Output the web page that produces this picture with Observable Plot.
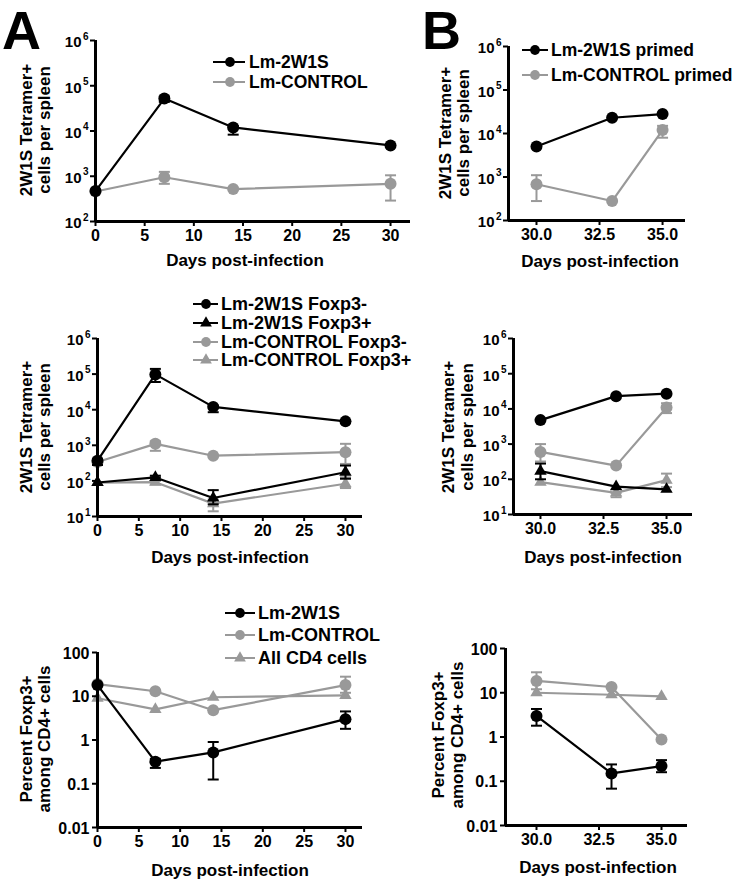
<!DOCTYPE html>
<html><head><meta charset="utf-8">
<script src="https://cdn.jsdelivr.net/npm/d3@7"></script>
<script src="https://cdn.jsdelivr.net/npm/@observablehq/plot@0.6"></script>
<style>
body{margin:0;background:#fff;}
#fig{position:relative;width:748px;height:887px;overflow:hidden;background:#fff;font-family:"Liberation Sans",Arial,sans-serif;font-weight:bold;}
#fig > svg{position:absolute;background:transparent;}
</style></head><body><div id="fig"></div>
<script>
const BLACK = "#000", GREY = "#999";
const FONT = "Liberation Sans, Arial, sans-serif";

// ---------- shared categories / ticks ----------
const daysA = [0, 7, 14, 30];
const daysB = [30, 33, 35];
const xTicksA = [0, 5, 10, 15, 20, 25, 30];
const xTicksB = [30, 32.5, 35];
const countTicks4 = [1e2, 1e3, 1e4, 1e5, 1e6];
const countExps4 = ["2", "3", "4", "5", "6"];
const countTicks5 = [1e1, 1e2, 1e3, 1e4, 1e5, 1e6];
const countExps5 = ["1", "2", "3", "4", "5", "6"];
const pctTicks = [0.01, 0.1, 1, 10, 100];
const pctTickLabels = ["0.01", "0.1", "1", "10", "100"];

// ---------- text ----------
const panelLetters = ["A", "B"];
const xTitle = "Days post-infection";
const yTitleCount = ["2W1S Tetramer+", "cells per spleen"];
const yTitlePct = ["Percent Foxp3+", "among CD4+ cells"];
const legendA1 = ["Lm-2W1S", "Lm-CONTROL"];
const legendA2 = ["Lm-2W1S Foxp3-", "Lm-2W1S Foxp3+", "Lm-CONTROL Foxp3-", "Lm-CONTROL Foxp3+"];
const legendA3 = ["Lm-2W1S", "Lm-CONTROL", "All CD4 cells"];
const legendB1 = ["Lm-2W1S primed", "Lm-CONTROL primed"];

// ---------- Panel A1: tetramer+ cells per spleen ----------
const a1_2w1s    = [470, 52000, 12000, 4800];
const a1_2w1s_lo = [null, 44000, 8300, null];
const a1_2w1s_hi = [null, 58000, 13000, null];
const a1_ctrl    = [460, 950, 520, 680];
const a1_ctrl_lo = [null, 680, null, 290];
const a1_ctrl_hi = [null, 1250, null, 1050];

// ---------- Panel A2: split by Foxp3 ----------
const a2_2w1s_neg    = [370, 98000, 12000, 4700];
const a2_2w1s_neg_lo = [280, 60000, 8500, null];
const a2_2w1s_neg_hi = [420, 140000, 13000, null];
const a2_2w1s_pos    = [90, 125, 33, 175];
const a2_2w1s_pos_lo = [null, null, 22, 115];
const a2_2w1s_pos_hi = [null, 140, 55, 270];
const a2_ctrl_neg    = [340, 1100, 510, 640];
const a2_ctrl_neg_lo = [null, 700, null, 300];
const a2_ctrl_neg_hi = [null, 1300, null, 1100];
const a2_ctrl_pos    = [90, 92, 23, 83];
const a2_ctrl_pos_lo = [null, 80, 14, 63];
const a2_ctrl_pos_hi = [null, 100, 30, 126];

// ---------- Panel A3: percent Foxp3+ ----------
const a3_2w1s    = [18, 0.32, 0.52, 3.0];
const a3_2w1s_lo = [null, 0.23, 0.125, 1.8];
const a3_2w1s_hi = [null, 0.37, 0.9, 4.5];
const a3_ctrl    = [19, 13, 4.8, 18];
const a3_ctrl_lo = [null, null, null, 12];
const a3_ctrl_hi = [null, null, null, 28];
const a3_cd4     = [9, 5, 9.5, 10.5];

// ---------- Panel B1 ----------
const b1_2w1s    = [5000, 23000, 28000];
const b1_ctrl    = [680, 280, 12000];
const b1_ctrl_lo = [280, null, 8000];
const b1_ctrl_hi = [1100, null, 15000];

// ---------- Panel B2 ----------
const b2_2w1s_neg    = [4800, 23000, 27000];
const b2_2w1s_pos    = [170, 62, 52];
const b2_2w1s_pos_lo = [100, null, null];
const b2_2w1s_pos_hi = [280, null, null];
const b2_ctrl_neg    = [600, 245, 11000];
const b2_ctrl_neg_lo = [320, null, 7600];
const b2_ctrl_neg_hi = [1000, null, 14500];
const b2_ctrl_pos    = [83, 41, 95];
const b2_ctrl_pos_lo = [null, 31, 60];
const b2_ctrl_pos_hi = [null, null, 145];

// ---------- Panel B3 ----------
const b3_2w1s    = [3.0, 0.15, 0.22];
const b3_2w1s_lo = [1.8, 0.068, 0.16];
const b3_2w1s_hi = [4.3, 0.24, 0.30];
const b3_ctrl    = [18.5, 13.5, 0.88];
const b3_ctrl_lo = [12, null, null];
const b3_ctrl_hi = [29, null, null];
const b3_cd4     = [10, 9, 8.3];

// ---------- drawing ----------
const fig = document.getElementById("fig");
const capSymbol = {draw(ctx, size) { const w = Math.sqrt(size / Math.PI); ctx.moveTo(-w, 0); ctx.lineTo(w, 0); }};

function panel(cfg) {
  const [x0, x1, y0, y1] = cfg.frame;
  const L = x0 - 62, T = y0 - 12, R = x1 + 14, B = y1 + 30;
  const marks = [];
  for (const s of cfg.series) {
    const rows = cfg.days.map((d, i) => ({day: d, v: s.v[i], lo: s.lo ? s.lo[i] : null, hi: s.hi ? s.hi[i] : null}));
    const err = rows.filter(r => r.lo != null || r.hi != null).map(r => ({...r, lo: r.lo ?? r.v, hi: r.hi ?? r.v}));
    marks.push(Plot.line(rows, {x: "day", y: "v", stroke: s.color, strokeWidth: 2.2}));
    marks.push(Plot.ruleX(err, {x: "day", y1: "lo", y2: "hi", stroke: s.color, strokeWidth: 2}));
    marks.push(Plot.dot(err, {x: "day", y: "lo", symbol: capSymbol, r: 5.5, stroke: s.color, strokeWidth: 2, fill: "none"}));
    marks.push(Plot.dot(err, {x: "day", y: "hi", symbol: capSymbol, r: 5.5, stroke: s.color, strokeWidth: 2, fill: "none"}));
    marks.push(Plot.dot(rows, {x: "day", y: "v", symbol: s.symbol, r: s.symbol === "triangle" ? 4.6 : 6, fill: s.color, stroke: "none"}));
  }
  marks.push(Plot.ruleY([cfg.yDomain[0]], {strokeWidth: 3}));
  marks.push(Plot.ruleX([cfg.xDomain[0]], {strokeWidth: 3}));
  marks.push(Plot.axisY({ticks: cfg.yTicks, tickSize: 5, tickFormat: () => "", strokeWidth: 2, label: null}));
  if (cfg.yExps) {
    marks.push(Plot.text(cfg.yTicks, {y: d => d, frameAnchor: "left", text: () => "10", textAnchor: "end", dx: -14, dy: 2, fontSize: 15, fontWeight: "bold"}));
    marks.push(Plot.text(cfg.yTicks, {y: d => d, frameAnchor: "left", text: (d, i) => cfg.yExps[i], textAnchor: "end", dx: -7, dy: -4, fontSize: 10, fontWeight: "bold"}));
  } else {
    marks.push(Plot.text(cfg.yTicks, {y: d => d, frameAnchor: "left", text: (d, i) => cfg.yLabels[i], textAnchor: "end", dx: -8, dy: 1, fontSize: 16, fontWeight: "bold"}));
  }
  marks.push(Plot.axisX({ticks: cfg.xTicks, tickSize: 5, tickPadding: 3, tickFormat: cfg.xFmt, strokeWidth: 2, fontSize: 16, fontWeight: "bold", label: null}));
  const svg = Plot.plot({
    width: R - L, height: B - T,
    marginLeft: x0 - L, marginRight: R - x1, marginTop: y0 - T, marginBottom: B - y1,
    x: {domain: cfg.xDomain, label: null},
    y: {type: "log", domain: cfg.yDomain, label: null},
    style: {fontFamily: FONT, fontWeight: "bold", fontSize: "16px", background: "transparent", color: "#000"},
    marks
  });
  svg.style.left = L + "px";
  svg.style.top = T + "px";
  fig.appendChild(svg);
}

const fmtA = d3.format("d");
const fmtB = d3.format(".1f");

panel({frame: [95, 410, 40, 221], days: daysA, xDomain: [0, 32.03], yDomain: [1e2, 1e6], yTicks: countTicks4, yExps: countExps4, xTicks: xTicksA, xFmt: fmtA,
  series: [
    {v: a1_ctrl, lo: a1_ctrl_lo, hi: a1_ctrl_hi, color: GREY, symbol: "circle"},
    {v: a1_2w1s, lo: a1_2w1s_lo, hi: a1_2w1s_hi, color: BLACK, symbol: "circle"}
  ]});

panel({frame: [97, 362, 338, 516], days: daysA, xDomain: [0, 32.06], yDomain: [1e1, 1e6], yTicks: countTicks5, yExps: countExps5, xTicks: xTicksA, xFmt: fmtA,
  series: [
    {v: a2_ctrl_pos, lo: a2_ctrl_pos_lo, hi: a2_ctrl_pos_hi, color: GREY, symbol: "triangle"},
    {v: a2_ctrl_neg, lo: a2_ctrl_neg_lo, hi: a2_ctrl_neg_hi, color: GREY, symbol: "circle"},
    {v: a2_2w1s_pos, lo: a2_2w1s_pos_lo, hi: a2_2w1s_pos_hi, color: BLACK, symbol: "triangle"},
    {v: a2_2w1s_neg, lo: a2_2w1s_neg_lo, hi: a2_2w1s_neg_hi, color: BLACK, symbol: "circle"}
  ]});

panel({frame: [97, 362, 652, 827], days: daysA, xDomain: [0, 32.06], yDomain: [0.01, 100], yTicks: pctTicks, yLabels: pctTickLabels, xTicks: xTicksA, xFmt: fmtA,
  series: [
    {v: a3_cd4, color: GREY, symbol: "triangle"},
    {v: a3_ctrl, lo: a3_ctrl_lo, hi: a3_ctrl_hi, color: GREY, symbol: "circle"},
    {v: a3_2w1s, lo: a3_2w1s_lo, hi: a3_2w1s_hi, color: BLACK, symbol: "circle"}
  ]});

panel({frame: [508, 685, 46, 220], days: daysB, xDomain: [28.89, 35.91], yDomain: [1e2, 1e6], yTicks: countTicks4, yExps: countExps4, xTicks: xTicksB, xFmt: fmtB,
  series: [
    {v: b1_ctrl, lo: b1_ctrl_lo, hi: b1_ctrl_hi, color: GREY, symbol: "circle"},
    {v: b1_2w1s, color: BLACK, symbol: "circle"}
  ]});

panel({frame: [513, 692, 338, 514], days: daysB, xDomain: [28.93, 36.03], yDomain: [1e1, 1e6], yTicks: countTicks5, yExps: countExps5, xTicks: xTicksB, xFmt: fmtB,
  series: [
    {v: b2_ctrl_pos, lo: b2_ctrl_pos_lo, hi: b2_ctrl_pos_hi, color: GREY, symbol: "triangle"},
    {v: b2_ctrl_neg, lo: b2_ctrl_neg_lo, hi: b2_ctrl_neg_hi, color: GREY, symbol: "circle"},
    {v: b2_2w1s_pos, lo: b2_2w1s_pos_lo, hi: b2_2w1s_pos_hi, color: BLACK, symbol: "triangle"},
    {v: b2_2w1s_neg, color: BLACK, symbol: "circle"}
  ]});

panel({frame: [505, 687, 648, 825], days: daysB, xDomain: [28.76, 36.04], yDomain: [0.01, 100], yTicks: pctTicks, yLabels: pctTickLabels, xTicks: xTicksB, xFmt: fmtB,
  series: [
    {v: b3_cd4, color: GREY, symbol: "triangle"},
    {v: b3_ctrl, lo: b3_ctrl_lo, hi: b3_ctrl_hi, color: GREY, symbol: "circle"},
    {v: b3_2w1s, lo: b3_2w1s_lo, hi: b3_2w1s_hi, color: BLACK, symbol: "circle"}
  ]});

// ---------- overlay: letters, titles, legends ----------
const ov = d3.select(fig).append("svg").attr("width", 748).attr("height", 887)
  .style("left", "0px").style("top", "0px").style("pointer-events", "none")
  .attr("font-family", FONT).attr("font-weight", "bold");

ov.append("text").attr("x", 2).attr("y", 49).attr("font-size", 54).text(panelLetters[0]);
ov.append("text").attr("x", 422).attr("y", 49).attr("font-size", 54).text(panelLetters[1]);

function yTitle(lines, x1, x2, cy) {
  [x1, x2].forEach((x, i) => {
    ov.append("text").attr("transform", `translate(${x},${cy}) rotate(-90)`)
      .attr("text-anchor", "middle").attr("dominant-baseline", "central")
      .attr("font-size", 17).text(lines[i]);
  });
}
function xTitleAt(cx, y) {
  ov.append("text").attr("x", cx).attr("y", y).attr("text-anchor", "middle").attr("font-size", 17).text(xTitle);
}
yTitle(yTitleCount, 26, 44, 130);
yTitle(yTitleCount, 26, 44, 427);
yTitle(yTitlePct, 26, 44, 739);
yTitle(yTitleCount, 445, 463, 133);
yTitle(yTitleCount, 448, 467, 427);
yTitle(yTitlePct, 438, 457, 735);
xTitleAt(245, 266);
xTitleAt(230, 563);
xTitleAt(230, 876);
xTitleAt(600, 267);
xTitleAt(603, 563);
xTitleAt(598, 873);

function legend(names, colors, symbols, lx0, lx1, mx, tx, rows, fs) {
  names.forEach((n, i) => {
    const y = rows[i];
    ov.append("line").attr("x1", lx0).attr("x2", lx1).attr("y1", y).attr("y2", y).attr("stroke", colors[i]).attr("stroke-width", 2);
    const sym = symbols[i] === "triangle" ? d3.symbolTriangle : d3.symbolCircle;
    ov.append("path").attr("d", d3.symbol(sym, symbols[i] === "triangle" ? 60 : 75)()).attr("transform", `translate(${mx},${y})`).attr("fill", colors[i]);
    ov.append("text").attr("x", tx).attr("y", y).attr("dominant-baseline", "central").attr("font-size", fs).text(n);
  });
}
legend(legendA1, [BLACK, GREY], ["circle", "circle"], 213, 245, 230, 249, [62, 82], 17.5);
legend(legendA2, [BLACK, BLACK, GREY, GREY], ["circle", "triangle", "circle", "triangle"], 193, 218, 206, 221, [304, 323, 342, 360], 18);
legend(legendA3, [BLACK, GREY, GREY], ["circle", "circle", "triangle"], 225, 255, 240, 258, [613, 635, 658], 18);
legend(legendB1, [BLACK, GREY], ["circle", "circle"], 522, 548, 535, 551, [50, 75], 17.5);
</script>
</body></html>
